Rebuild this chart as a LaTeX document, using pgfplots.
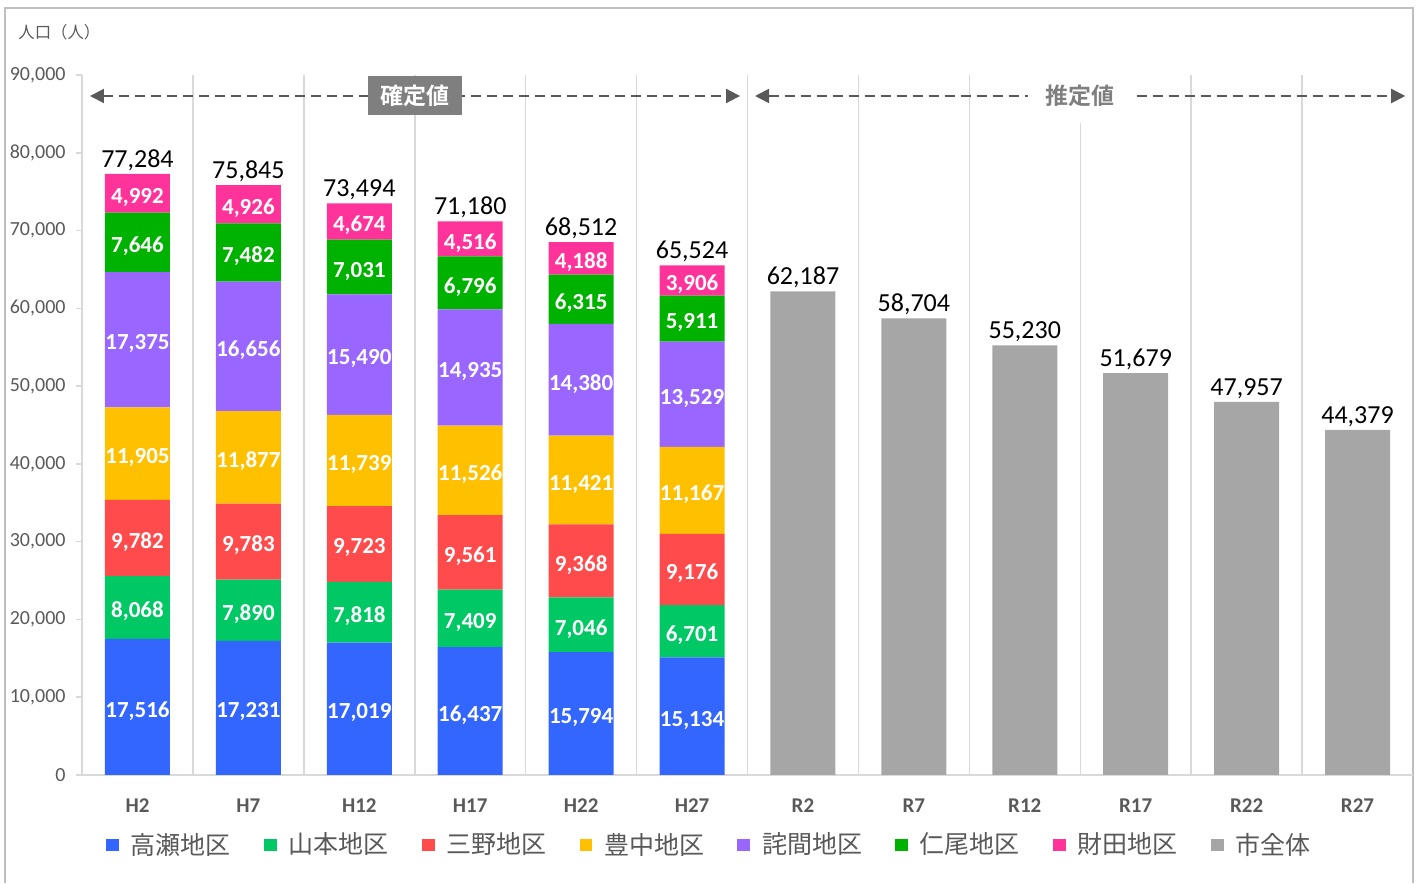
\documentclass[border=0pt]{standalone}
\usepackage{pgfplots}
\pgfplotsset{compat=1.18}
\usepackage{pgfplotstable}
\usepackage{fontspec}
\setmainfont{Carlito}
\newfontfamily\cjk{Noto Sans CJK JP}[BoldFont={Noto Sans CJK JP Bold}]
\usetikzlibrary{arrows.meta}
\definecolor{cTakase}{RGB}{51,102,255}
\definecolor{cYamamoto}{RGB}{0,200,100}
\definecolor{cMino}{RGB}{255,75,75}
\definecolor{cToyonaka}{RGB}{255,192,0}
\definecolor{cTakuma}{RGB}{153,102,255}
\definecolor{cNio}{RGB}{0,178,0}
\definecolor{cSaita}{RGB}{255,51,153}
\definecolor{cAll}{RGB}{166,166,166}
\definecolor{textgray}{RGB}{89,89,89}
\definecolor{gridc}{RGB}{217,217,217}
\definecolor{framec}{RGB}{191,191,191}
\definecolor{boxgray}{RGB}{127,127,127}
\pgfplotstableread{
x takase yamamoto mino toyonaka takuma nio saita zentai total
0 17516 8068 9782 11905 17375 7646 4992 0 77284
1 17231 7890 9783 11877 16656 7482 4926 0 75845
2 17019 7818 9723 11739 15490 7031 4674 0 73494
3 16437 7409 9561 11526 14935 6796 4516 0 71180
4 15794 7046 9368 11421 14380 6315 4188 0 68512
5 15134 6701 9176 11167 13529 5911 3906 0 65524
6 0 0 0 0 0 0 0 62187 62187
7 0 0 0 0 0 0 0 58704 58704
8 0 0 0 0 0 0 0 55230 55230
9 0 0 0 0 0 0 0 51679 51679
10 0 0 0 0 0 0 0 47957 47957
11 0 0 0 0 0 0 0 44379 44379
}\popdata
\pgfplotsset{
  /pgf/number format/1000 sep={,},
  /pgf/number format/assume math mode=true,
  geom/.style={scale only axis, width=665.5pt, height=350pt,
    xmin=-0.5, xmax=11.5, ymin=0, ymax=90000, clip=false},
  seglab/.style={draw=none, mark=none, point meta=explicit,
    nodes near coords={\pgfmathfloatifflags{\pgfplotspointmeta}{0}{}{\pgfmathprintnumber{\pgfplotspointmeta}}},
    nodes near coords style={anchor=center, yshift=-2pt, text=white, font=\bfseries\fontsize{11.5}{13}\selectfont}},
}
\begin{document}
\begin{tikzpicture}
\path (-41pt,-54pt) rectangle (668.5pt,387.5pt);
\draw[framec, line width=0.75pt] (-38.5pt,-54pt) -- (-38.5pt,383.5pt) -- (665.5pt,383.5pt) -- (665.5pt,-54pt);
\node[anchor=west, font=\cjk\fontsize{8.2}{10}\selectfont, text=textgray, inner sep=0pt] at (-32pt,371.5pt) {人口（人）};
\begin{axis}[
  geom,
  ybar stacked, bar width=32.5pt,
  axis lines*=left,
  axis line style={draw=gridc, line width=0.75pt},
  xtick={0,...,11},
  xticklabels={H2,H7,H12,H17,H22,H27,R2,R7,R12,R17,R22,R27},
  minor xtick={0.5,1.5,...,10.5},
  xminorgrids=true,
  minor grid style={draw=gridc, line width=0.75pt},
  x tick style={draw=none},
  minor x tick style={draw=none},
  xticklabel style={font=\bfseries\fontsize{10.5}{12}\selectfont, text=textgray, yshift=-5.5pt},
  ytick={0,10000,...,90000},
  scaled y ticks=false,
  tick align=outside,
  major tick length=3pt,
  y tick style={draw=gridc, line width=0.75pt},
  yticklabel style={font=\fontsize{10}{12}\selectfont, text=textgray, xshift=-1.7pt},
  legend columns=8,
  legend style={at={(0.4706,-0.1)}, anchor=center, draw=none, fill=none,
    font=\cjk\fontsize{12.5}{14}\selectfont, text=textgray,
    nodes={inner sep=0pt},
    /tikz/every odd column/.style={column sep=6pt},
    /tikz/every even column/.style={column sep=16.5pt}},
  legend image code/.code={\fill[#1] (0pt,-3.2pt) rectangle (6.4pt,3.2pt);},
]
\addplot[fill=cTakase, draw=none] table[x=x, y=takase] {\popdata};
\addlegendentry{高瀬地区}
\addplot[fill=cYamamoto, draw=none] table[x=x, y=yamamoto] {\popdata};
\addlegendentry{山本地区}
\addplot[fill=cMino, draw=none] table[x=x, y=mino] {\popdata};
\addlegendentry{三野地区}
\addplot[fill=cToyonaka, draw=none] table[x=x, y=toyonaka] {\popdata};
\addlegendentry{豊中地区}
\addplot[fill=cTakuma, draw=none] table[x=x, y=takuma] {\popdata};
\addlegendentry{詫間地区}
\addplot[fill=cNio, draw=none] table[x=x, y=nio] {\popdata};
\addlegendentry{仁尾地区}
\addplot[fill=cSaita, draw=none] table[x=x, y=saita] {\popdata};
\addlegendentry{財田地区}
\addplot[fill=cAll, draw=none] table[x=x, y=zentai] {\popdata};
\addlegendentry{市全体}
\draw[textgray, line width=1pt, dash pattern=on 5pt off 3pt, {Triangle[length=7pt,width=7pt]}-{Triangle[length=7pt,width=7pt]}] (axis cs:-0.428,87300) -- (axis cs:5.433,87300);
\draw[textgray, line width=1pt, dash pattern=on 5pt off 3pt, {Triangle[length=7pt,width=7pt]}-{Triangle[length=7pt,width=7pt]}] (axis cs:5.568,87300) -- (axis cs:11.43,87300);
\coordinate (kakutei) at (axis cs:2.5,87300);
\coordinate (suitei) at (axis cs:8.5,87300);
\end{axis}
\begin{axis}[geom, hide axis]
\addplot[seglab] table[x=x, y expr=\thisrow{takase}/2, meta=takase] {\popdata};
\addplot[seglab] table[x=x, y expr=\thisrow{takase}+\thisrow{yamamoto}/2, meta=yamamoto] {\popdata};
\addplot[seglab] table[x=x, y expr=\thisrow{takase}+\thisrow{yamamoto}+\thisrow{mino}/2, meta=mino] {\popdata};
\addplot[seglab] table[x=x, y expr=\thisrow{takase}+\thisrow{yamamoto}+\thisrow{mino}+\thisrow{toyonaka}/2, meta=toyonaka] {\popdata};
\addplot[seglab] table[x=x, y expr=\thisrow{takase}+\thisrow{yamamoto}+\thisrow{mino}+\thisrow{toyonaka}+\thisrow{takuma}/2, meta=takuma] {\popdata};
\addplot[seglab] table[x=x, y expr=\thisrow{total}-\thisrow{saita}-\thisrow{nio}/2, meta=nio] {\popdata};
\addplot[seglab] table[x=x, y expr=\thisrow{total}-\thisrow{saita}/2, meta=saita] {\popdata};
\addplot[draw=none, mark=none, point meta=explicit,
  nodes near coords={\pgfmathprintnumber{\pgfplotspointmeta}},
  nodes near coords style={anchor=south, text=black, font=\fontsize{13}{15}\selectfont, inner ysep=1.5pt}]
  table[x=x, y=total, meta=total] {\popdata};
\end{axis}
\node[fill=boxgray, text=white, font=\cjk\bfseries\fontsize{11.5}{13}\selectfont, minimum width=47pt, minimum height=19.5pt, inner sep=0pt] at (kakutei) {確定値};
\node[fill=white, text=boxgray, font=\cjk\bfseries\fontsize{11.5}{13}\selectfont, minimum width=52pt, minimum height=27pt, inner sep=0pt] at (suitei) {推定値};
\end{tikzpicture}
\end{document}
